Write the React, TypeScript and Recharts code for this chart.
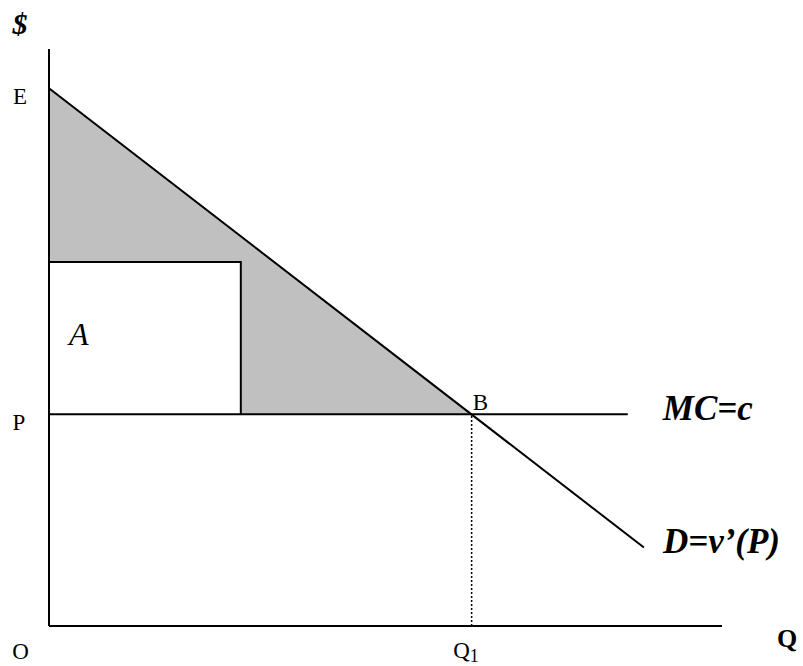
import { ComposedChart, XAxis, YAxis, Area, Line, ReferenceDot } from 'recharts'

const priceE = 9.32
const priceP = 3.67
const priceRectTop = 6.31
// quantities (0..10 scale)
const qRect = 2.85
const qB = 6.28
const qMcEnd = 8.6
const qDemandEnd = 8.84
const priceDemandEnd = 1.36

const demandPts = [{ q: 0, v: priceE }, { q: qDemandEnd, v: priceDemandEnd }]
const mcPts = [{ q: 0, v: priceP }, { q: qMcEnd, v: priceP }]
const surplusPts = [
  { q: 0, band: [priceP, priceE] },
  { q: qB, band: [priceP, priceP] },
]
const rectPts = [
  { q: 0, band: [priceP, priceRectTop] },
  { q: qRect, band: [priceP, priceRectTop] },
]
const rectEdgePts = [
  { q: 0, v: priceRectTop },
  { q: qRect, v: priceRectTop },
  { q: qRect, v: priceP },
]
const q1DropPts = [{ q: qB, v: 0 }, { q: qB, v: priceP }]

const serif = '"Liberation Serif", "Times New Roman", serif'

const tag = (
  id: string, x: number, y: number, dx: number, dy: number,
  content: any, style: any = {},
) => (
  <ReferenceDot
    key={id}
    x={x}
    y={y}
    r={0}
    fill="none"
    stroke="none"
    label={(p: any) => {
      const vb = p.viewBox || p
      return (
        <text x={vb.x + dx} y={vb.y + dy} fontFamily={serif} fill="#000" fontSize={23} {...style}>
          {content}
        </text>
      )
    }}
  />
)

export default function App() {
  const bigItalic = { fontSize: 35, fontWeight: 'bold', fontStyle: 'italic' }
  return (
    <div style={{ position: 'absolute', left: 0, top: 0, background: '#fff' }}>
      <ComposedChart width={803} height={666} margin={{ top: 49, right: 81, left: 0, bottom: 0 }}>
        <XAxis
          dataKey="q" type="number" domain={[0, 10]} allowDataOverflow
          height={40} tick={false} tickLine={false}
          axisLine={{ stroke: '#000', strokeWidth: 2 }}
        />
        <YAxis
          type="number" domain={[0, 10]} allowDataOverflow
          width={49} tick={false} tickLine={false}
          axisLine={{ stroke: '#000', strokeWidth: 2 }}
        />
        <Area data={surplusPts} dataKey="band" type="linear" fill="#c0c0c0" fillOpacity={1}
          stroke="none" isAnimationActive={false} activeDot={false} />
        <Area data={rectPts} dataKey="band" type="linear" fill="#fff" fillOpacity={1}
          stroke="none" isAnimationActive={false} activeDot={false} />
        <Line data={rectEdgePts} dataKey="v" type="linear" stroke="#000" strokeWidth={2}
          dot={false} activeDot={false} isAnimationActive={false} />
        <Line data={mcPts} dataKey="v" type="linear" stroke="#000" strokeWidth={2}
          dot={false} activeDot={false} isAnimationActive={false} />
        <Line data={q1DropPts} dataKey="v" type="linear" stroke="#000" strokeWidth={1.5}
          strokeDasharray="2 2" dot={false} activeDot={false} isAnimationActive={false} />
        <Line data={demandPts} dataKey="v" type="linear" stroke="#000" strokeWidth={2}
          dot={false} activeDot={false} isAnimationActive={false} />

        {tag('dollar', 0, 10, -29, -15, '$', { fontSize: 30, fontWeight: 'bold', fontStyle: 'italic', textAnchor: 'middle' })}
        {tag('E', 0, priceE, -29, 16, 'E', { textAnchor: 'middle' })}
        {tag('P', 0, priceP, -30, 15.5, 'P', { textAnchor: 'middle' })}
        {tag('O', 0, 0, -28.5, 33, 'O', { textAnchor: 'middle' })}
        {tag('Q1', qB, 0, -18.5, 32, [
          <tspan key="q">Q</tspan>,
          <tspan key="s" fontSize={18} dy={4}>1</tspan>,
        ])}
        {tag('Q', 10, 0, 55, 21, 'Q', { fontSize: 26, fontWeight: 'bold' })}
        {tag('B', qB, priceP, 1, -4.5, 'B')}
        {tag('A', 0, priceP, 20, -69.5, 'A', { fontSize: 32, fontStyle: 'italic' })}
        {tag('MC', qMcEnd, priceP, 35, 5.5, 'MC=c', bigItalic)}
        {tag('D', qDemandEnd, priceDemandEnd, 19, 5, 'D=v\u2019(P)', bigItalic)}
      </ComposedChart>
    </div>
  )
}
